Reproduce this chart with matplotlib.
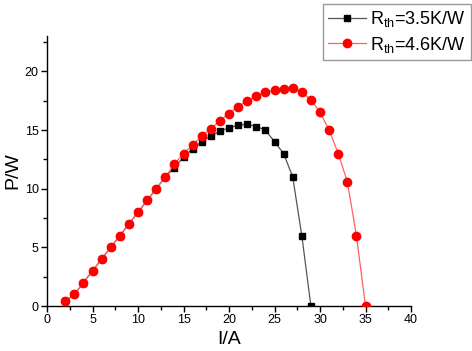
import matplotlib
matplotlib.use("Agg")
import matplotlib.pyplot as plt
from matplotlib.ticker import MultipleLocator

plt.rcParams['font.family'] = ['Liberation Sans', 'DejaVu Sans']
plt.rcParams['mathtext.fontset'] = 'custom'
plt.rcParams['mathtext.rm'] = 'Liberation Sans'

current_a = [2, 3, 4, 5, 6, 7, 8, 9, 10, 11, 12, 13, 14, 15, 16, 17, 18, 19, 20,
             21, 22, 23, 24, 25, 26, 27, 28, 29]
power_35 = [0.4, 1, 2, 3, 4, 5, 6, 7, 8, 9, 10, 11, 11.8, 12.7, 13.4, 14.0, 14.5, 14.9, 15.2,
            15.4, 15.5, 15.3, 15.0, 14.0, 13.0, 11.0, 6.0, 0.0]

current_b = [2, 3, 4, 5, 6, 7, 8, 9, 10, 11, 12, 13, 14, 15, 16, 17, 18, 19, 20,
             21, 22, 23, 24, 25, 26, 27, 28, 29, 30, 31, 32, 33, 34, 35]
power_46 = [0.4, 1, 2, 3, 4, 5, 6, 7, 8, 9, 10, 11, 12.1, 13.0, 13.7, 14.5, 15.1, 15.8, 16.4,
            17.0, 17.5, 17.9, 18.2, 18.4, 18.5, 18.6, 18.2, 17.6, 16.5, 15.0, 13.0, 10.6, 6.0, 0.0]

labels = [r'R$_{\mathrm{th}}$=3.5K/W', r'R$_{\mathrm{th}}$=4.6K/W']

fig = plt.figure(figsize=(4.72, 3.51), dpi=100)
ax = fig.add_axes([0.0996, 0.128, 0.7712, 0.769])

ax.plot(current_a, power_35, color='#555555', lw=0.9, marker='s', ms=5,
        mfc='black', mec='black', label=labels[0], zorder=3)
ax.plot(current_b, power_46, color='#ff6060', lw=0.9, marker='o', ms=6,
        mfc='red', mec='red', label=labels[1], zorder=4)

ax.set_xlim(0, 40)
ax.set_ylim(0, 23)
ax.xaxis.set_major_locator(MultipleLocator(5))
ax.xaxis.set_minor_locator(MultipleLocator(2.5))
ax.yaxis.set_major_locator(MultipleLocator(5))
ax.yaxis.set_minor_locator(MultipleLocator(2.5))
ax.spines['top'].set_visible(False)
ax.spines['right'].set_visible(False)
for s in ['left', 'bottom']:
    ax.spines[s].set_linewidth(1.0)
ax.tick_params(which='major', direction='out', length=4, width=1, labelsize=9, pad=2)
ax.tick_params(which='minor', direction='out', length=3, width=1)

ax.set_xlabel('I/A', fontsize=14, labelpad=3)
ax.set_ylabel('P/W', fontsize=14, labelpad=0)
ax.yaxis.set_label_coords(-0.07, 0.5)

leg = fig.legend(loc='upper left', bbox_to_anchor=(0.684, 0.989), fontsize=13,
                 frameon=True, fancybox=False, edgecolor='#808080', handlelength=2.1,
                 handletextpad=0.2, borderpad=0.3, labelspacing=0.3, borderaxespad=0)
leg.get_frame().set_linewidth(1.0)

fig.savefig('out.png', dpi=100)
